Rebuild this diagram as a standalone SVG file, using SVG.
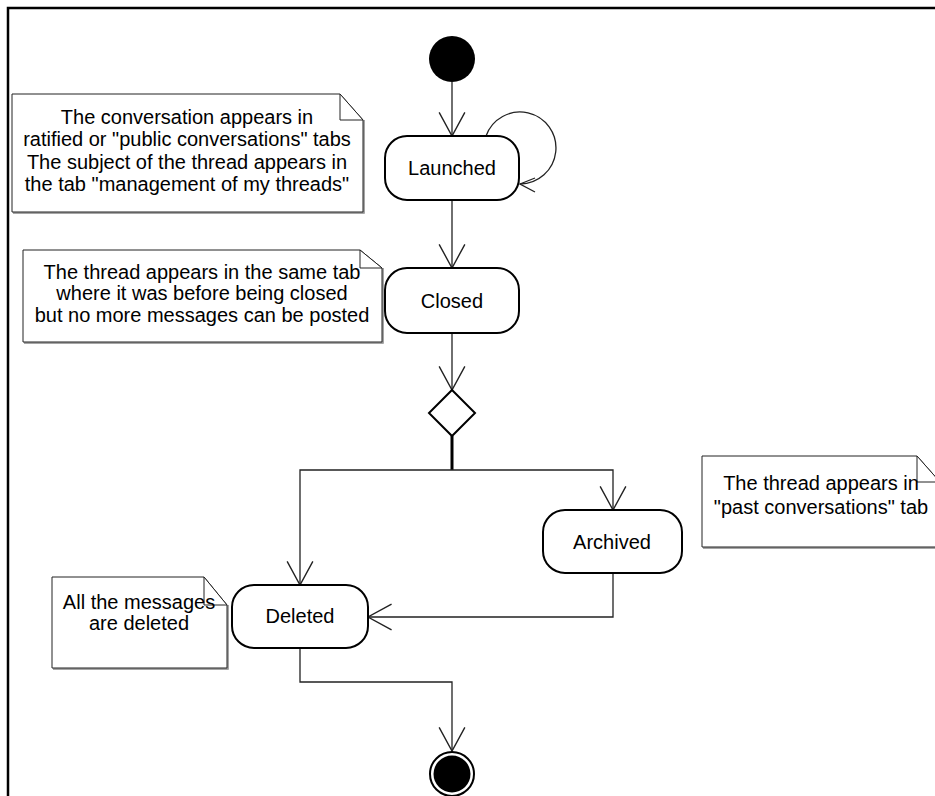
<svg xmlns="http://www.w3.org/2000/svg" width="935" height="796" viewBox="0 0 935 796">
<style>
  .state { fill: #fff; stroke: #000; stroke-width: 2; }
  .note { fill: #fff; stroke: #222; stroke-width: 1; }
  .shadow { fill: none; stroke: #888; stroke-width: 1.5; }
  .fold { fill: #fff; stroke: #222; stroke-width: 1; }
  .conn { fill: none; stroke: #222; stroke-width: 1.3; }
  text { font-family: "Liberation Sans", Arial, sans-serif; font-size: 20px; fill: #000; text-anchor: middle; dominant-baseline: central; }
</style>
<defs>
  <marker id="arr" markerUnits="userSpaceOnUse" markerWidth="30" markerHeight="30" viewBox="-24 -14 26 28" refX="0" refY="0" orient="auto" overflow="visible">
    <path d="M-22,-12 L0,0 L-22,12" fill="none" stroke="#222" stroke-width="1.3"/>
  </marker>
</defs>
<rect width="935" height="796" fill="#fff"/>
<g id="frame">
  <path d="M8,796 V8 H935" fill="none" stroke="#000" stroke-width="2.5"/>
</g>
<g id="connectors">
  <path class="conn" d="M452,82 V136" marker-end="url(#arr)"/>
  <path class="conn" d="M486,136 A36,36 0 1 1 520,184"/>
  <path class="conn" d="M535,178 L520,184 L535,192"/>
  <path class="conn" d="M452,200 V268" marker-end="url(#arr)"/>
  <path class="conn" d="M452,333 V390" marker-end="url(#arr)"/>
  <path d="M452,436 V470" fill="none" stroke="#000" stroke-width="3"/>
  <path class="conn" d="M452,470 H300 V585" marker-end="url(#arr)"/>
  <path class="conn" d="M452,470 H613 V510" marker-end="url(#arr)"/>
  <path class="conn" d="M613,573 V617 H368" marker-end="url(#arr)"/>
  <path class="conn" d="M300,648 V682 H452 V751" marker-end="url(#arr)"/>
</g>
<g id="start">
  <circle cx="452" cy="59" r="23" fill="#000"/>
</g>
<g id="launched">
  <rect class="state" x="385" y="136" width="134" height="64" rx="22"/>
  <text x="452" y="168">Launched</text>
</g>
<g id="closed">
  <rect class="state" x="385" y="268" width="134" height="65" rx="22"/>
  <text x="452" y="301">Closed</text>
</g>
<g id="decision">
  <path d="M452,390 L475,413 L452,436 L429,413 Z" fill="#fff" stroke="#000" stroke-width="2"/>
</g>
<g id="archived">
  <rect class="state" x="543" y="510" width="139" height="63" rx="22"/>
  <text x="612" y="542">Archived</text>
</g>
<g id="deleted">
  <rect class="state" x="232" y="585" width="136" height="63" rx="22"/>
  <text x="300" y="616">Deleted</text>
</g>
<g id="final">
  <circle cx="452" cy="774" r="22" fill="#fff" stroke="#000" stroke-width="2"/>
  <circle cx="452" cy="774" r="18.5" fill="#000"/>
</g>
<g id="note1">
  <path class="shadow" d="M364,120 V213 H13"/>
  <path class="note" d="M12,94 H340 L363,120 V212 H12 Z"/>
  <path class="fold" d="M340,94 V120 H363 Z"/>
  <text x="187" y="117">The conversation appears in</text>
  <text x="187" y="139">ratified or "public conversations" tabs</text>
  <text x="187" y="162">The subject of the thread appears in</text>
  <text x="187" y="184">the tab "management of my threads"</text>
</g>
<g id="note2">
  <path class="shadow" d="M383,268 V343 H24"/>
  <path class="note" d="M23,250 H360 L382,268 V342 H23 Z"/>
  <path class="fold" d="M360,250 V268 H382 Z"/>
  <text x="202" y="272">The thread appears in the same tab</text>
  <text x="202" y="293">where it was before being closed</text>
  <text x="202" y="315">but no more messages can be posted</text>
</g>
<g id="note3">
  <path class="shadow" d="M941,482 V548 H703"/>
  <path class="note" d="M702,456 H917 L940,482 V547 H702 Z"/>
  <path class="fold" d="M917,456 V482 H940 Z"/>
  <text x="821" y="483">The thread appears in</text>
  <text x="821" y="507">"past conversations" tab</text>
</g>
<g id="note4">
  <path class="shadow" d="M228,605 V669 H53"/>
  <path class="note" d="M52,577 H204 L227,605 V668 H52 Z"/>
  <path class="fold" d="M204,577 V605 H227 Z"/>
  <text x="139" y="602">All the messages</text>
  <text x="139" y="623">are deleted</text>
</g>
</svg>
